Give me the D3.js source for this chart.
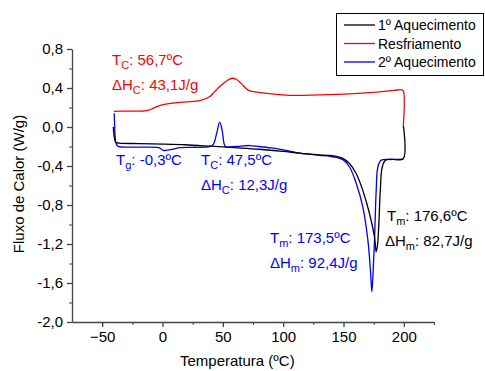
<!DOCTYPE html>
<html>
<head>
<meta charset="utf-8">
<script src="https://cdn.jsdelivr.net/npm/d3@7"></script>
<style>
  body { margin: 0; background: #fff; }
  svg text { font-family: "Liberation Sans", Arial, sans-serif; }
</style>
</head>
<body>
<div id="chart"></div>
<script>
// Data (Temperatura in ºC, Fluxo de Calor in W/g)
const heat1T = [-40.8, -40.2, -39.4, -38.6, -36, -20, 0, 18.5, 40, 60, 80, 100, 113.5, 130, 138.5, 145, 149.5, 155, 160.6, 166, 171.6, 175.7, 177.1, 178.3, 179.3, 180.5, 182.1, 184.9, 190, 199.5, 199.6];
const heat1V = [0.0, -0.08, -0.14, -0.158, -0.165, -0.17, -0.175, -0.182, -0.197, -0.212, -0.228, -0.25, -0.268, -0.285, -0.292, -0.305, -0.322, -0.375, -0.48, -0.65, -0.89, -1.13, -1.28, -1.2, -0.99, -0.65, -0.41, -0.34, -0.332, -0.326, 0.015];

const coolT = [199.6, 199.6, 198, 192, 180, 155, 130, 105, 83, 71, 65.4, 61, 58, 54, 48.8, 43, 39, 31, 22.6, 8.8, -1, -8, -13, -30, -40.3];
const coolV = [0.015, 0.37, 0.382, 0.376, 0.36, 0.34, 0.33, 0.325, 0.35, 0.378, 0.445, 0.49, 0.5, 0.48, 0.43, 0.36, 0.31, 0.27, 0.26, 0.246, 0.225, 0.19, 0.168, 0.163, 0.16];

const heat2T = [-40, -39.6, -38.8, -37.3, -34, -20, -4, -1, 0.5, 4, 7.5, 14, 25, 38, 42, 45, 47.4, 49.5, 51, 52.5, 56, 64, 72, 80, 90, 100, 113.5, 130, 138.5, 145, 149.5, 155, 160.6, 166, 170.2, 172.5, 173.5, 174.5, 175.7, 177.1, 178.5, 181.3, 190, 199.5];
const heat2V = [0.14, 0.0, -0.15, -0.195, -0.205, -0.207, -0.21, -0.225, -0.24, -0.237, -0.23, -0.212, -0.208, -0.205, -0.18, -0.06, 0.05, -0.04, -0.17, -0.205, -0.205, -0.198, -0.19, -0.2, -0.215, -0.235, -0.267, -0.29, -0.3, -0.315, -0.335, -0.41, -0.58, -0.82, -1.16, -1.5, -1.69, -1.5, -1.16, -0.65, -0.41, -0.34, -0.333, -0.33];

const xTicks = [-50, 0, 50, 100, 150, 200];
const xMinor = [-25, 25, 75, 125, 175, 225];
const yTicks = [-2.0, -1.6, -1.2, -0.8, -0.4, 0.0, 0.4, 0.8];
const yTickLabels = ["-2,0", "-1,6", "-1,2", "-0,8", "-0,4", "0,0", "0,4", "0,8"];
const yMinor = [-1.8, -1.4, -1.0, -0.6, -0.2, 0.2, 0.6];

const seriesNames = ["1º Aquecimento", "Resfriamento", "2º Aquecimento"];
const seriesColors = ["#000000", "#ff0000", "#0000ff"];

// Chart size
const W = 485, H = 371;
const margin = { top: 49, right: 51, bottom: 49, left: 72 };
const width = W - margin.left - margin.right;
const height = H - margin.top - margin.bottom;

const svg = d3.select("#chart")
    .append("svg")
    .attr("width", W)
    .attr("height", H);

const g = svg.append("g")
    .attr("transform", `translate(${margin.left},${margin.top})`);

const x = d3.scaleLinear().domain([-75, 225]).range([0, width]);
const y = d3.scaleLinear().domain([-2.0, 0.8]).range([height, 0]);

const axisColor = "#444";

// minor ticks
g.append("g")
    .attr("transform", `translate(0,${height})`)
    .call(d3.axisBottom(x).tickValues(xMinor).tickSize(3).tickFormat("").tickSizeOuter(0))
    .call(a => a.select(".domain").remove())
    .selectAll("line").attr("stroke", axisColor);
g.append("g")
    .call(d3.axisLeft(y).tickValues(yMinor).tickSize(3).tickFormat("").tickSizeOuter(0))
    .call(a => a.select(".domain").remove())
    .selectAll("line").attr("stroke", axisColor);

// X axis
const xAxis = g.append("g")
    .attr("transform", `translate(0,${height})`)
    .call(d3.axisBottom(x).tickValues(xTicks).tickSize(5).tickSizeOuter(0).tickPadding(4));
xAxis.selectAll("text").attr("font-size", 15).attr("fill", "#000")
    .attr("font-family", "Liberation Sans, Arial, sans-serif");

// Y axis
const yAxis = g.append("g")
    .call(d3.axisLeft(y).tickValues(yTicks).tickSize(5).tickSizeOuter(0).tickPadding(4)
        .tickFormat((d, i) => yTickLabels[i]));
yAxis.selectAll("text").attr("font-size", 15).attr("fill", "#000")
    .attr("font-family", "Liberation Sans, Arial, sans-serif");

[xAxis, yAxis].forEach(a => {
    a.select(".domain").attr("stroke", axisColor).attr("stroke-width", 1.3);
    a.selectAll("line").attr("stroke", axisColor).attr("stroke-width", 1.3);
});

// Axis titles
svg.append("text")
    .attr("x", margin.left + x(62))
    .attr("y", 366)
    .attr("text-anchor", "middle")
    .attr("font-size", 15)
    .text("Temperatura (ºC)");

svg.append("text")
    .attr("transform", `translate(24,${184}) rotate(-90)`)
    .attr("text-anchor", "middle")
    .attr("font-size", 15)
    .text("Fluxo de Calor (W/g)");

// Curves
const line = d3.line()
    .x(d => x(d[0]))
    .y(d => y(d[1]))
    .curve(d3.curveCatmullRom.alpha(0.5));

const zip = (a, b) => a.map((v, i) => [v, b[i]]);
const curves = [zip(heat2T, heat2V), zip(coolT, coolV), zip(heat1T, heat1V)];
const curveColors = [seriesColors[2], seriesColors[1], seriesColors[0]];

g.selectAll(".curve")
    .data(curves)
    .enter()
    .append("path")
    .attr("class", "curve")
    .attr("fill", "none")
    .attr("stroke", (d, i) => curveColors[i])
    .attr("stroke-width", 1.3)
    .attr("d", line);

// Annotations
function annot(px, py, color, main, sub, rest) {
    const t = svg.append("text")
        .attr("x", px).attr("y", py)
        .attr("font-size", 15)
        .attr("fill", color);
    t.append("tspan").text(main);
    t.append("tspan").attr("font-size", 11).attr("dy", 4).text(sub);
    t.append("tspan").attr("dy", -4).text(rest);
}

annot(112, 65, "#ff0000", "T", "C", ": 56,7ºC");
annot(112, 90, "#ff0000", "ΔH", "C", ": 43,1J/g");
annot(116, 165, "#0000ff", "T", "g", ": -0,3ºC");
annot(201, 165, "#0000ff", "T", "C", ": 47,5ºC");
annot(201, 190, "#0000ff", "ΔH", "C", ": 12,3J/g");
annot(270, 243, "#0000ff", "T", "m", ": 173,5ºC");
annot(270, 268, "#0000ff", "ΔH", "m", ": 92,4J/g");
annot(387, 221, "#000000", "T", "m", ": 176,6ºC");
annot(385, 246, "#000000", "ΔH", "m", ": 82,7J/g");

// Legend
const legend = svg.append("g");
legend.append("rect")
    .attr("x", 336.5).attr("y", 13.5)
    .attr("width", 147).attr("height", 62)
    .attr("fill", "#fff").attr("stroke", "#000").attr("stroke-width", 1);

const rows = legend.selectAll(".row")
    .data(seriesNames)
    .enter()
    .append("g")
    .attr("transform", (d, i) => `translate(0,${25 + i * 18.5})`);
rows.append("line")
    .attr("x1", 344).attr("x2", 375)
    .attr("y1", 0).attr("y2", 0)
    .attr("stroke", (d, i) => seriesColors[i])
    .attr("stroke-width", 1.3);
rows.append("text")
    .attr("x", 378).attr("y", 5)
    .attr("font-size", 14)
    .text(d => d);
</script>
</body>
</html>
